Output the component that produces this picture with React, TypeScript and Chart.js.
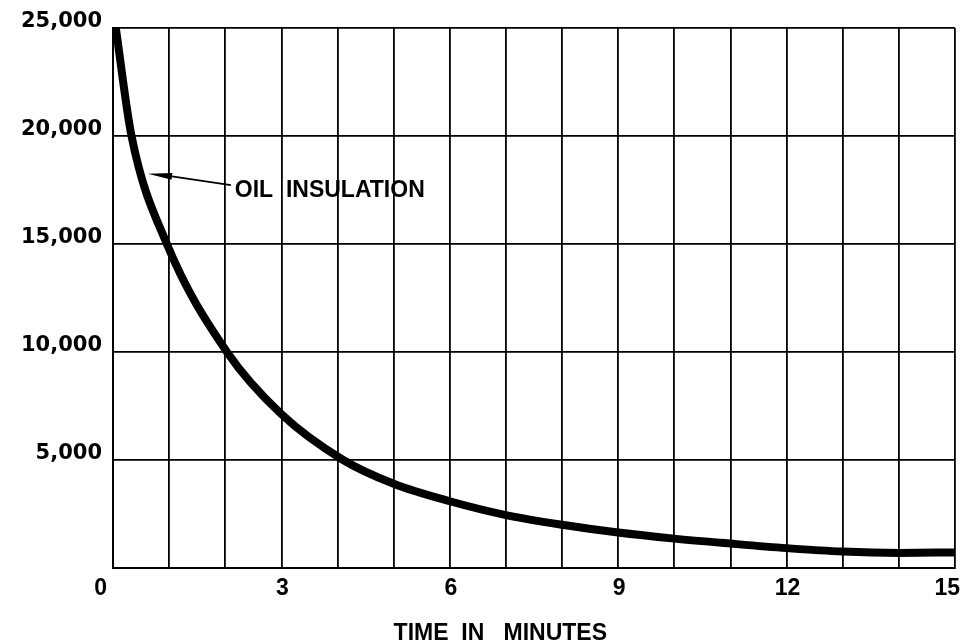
import React, { useEffect, useRef } from "react";
import { Chart, registerables } from "chart.js";

Chart.register(...registerables);

// Curve: time (minutes) vs value
const timeMinutes = [0.05, 0.33, 0.96, 2.03, 3, 4.1, 5, 6, 7, 8, 9, 10, 11, 12, 13, 14, 15];
const oilValues = [25000, 20000, 15000, 10000, 7120, 5000, 3900, 3090, 2450, 2000, 1640, 1360, 1130, 920, 760, 700, 720];

const xTickLabels = [0, 3, 6, 9, 12, 15];
const xAxisTitle = "TIME  IN   MINUTES";
const seriesLabel = "OIL  INSULATION";

// annotation anchor points (data coordinates)
const labelAt = { x: 2.17, y: 17180 };
const arrowTip = { x: 0.62, y: 18250 };
const arrowBase = { x: 1.05, y: 18130 };
const arrowTail = { x: 2.1, y: 17730 };

const LABEL_FONT = "bold 23px 'Liberation Sans', Arial, sans-serif";

const customText = {
  id: "customText",
  afterDraw(chart: any) {
    const { ctx, chartArea, scales } = chart;
    const xs = scales.x;
    const ys = scales.y;
    ctx.save();
    ctx.fillStyle = "#000";
    ctx.strokeStyle = "#000";
    ctx.font = LABEL_FONT;
    ctx.textBaseline = "alphabetic";
    // x tick labels
    xTickLabels.forEach((v, i) => {
      const px = xs.getPixelForValue(v);
      const t = String(v);
      if (i === 0) {
        ctx.textAlign = "right";
        ctx.fillText(t, px - 6, chartArea.bottom + 27);
      } else if (i === xTickLabels.length - 1) {
        ctx.textAlign = "right";
        ctx.fillText(t, px + 5, chartArea.bottom + 27);
      } else {
        ctx.textAlign = "center";
        ctx.fillText(t, px + 1, chartArea.bottom + 27);
      }
    });
    // x axis title
    ctx.textAlign = "center";
    ctx.fillText(xAxisTitle, xs.getPixelForValue(6.9), chart.height - 4);

    // annotation label
    ctx.textAlign = "left";
    ctx.fillText(seriesLabel, xs.getPixelForValue(labelAt.x), ys.getPixelForValue(labelAt.y));

    // arrow
    const tx = xs.getPixelForValue(arrowTip.x), ty = ys.getPixelForValue(arrowTip.y);
    const bx = xs.getPixelForValue(arrowBase.x), by = ys.getPixelForValue(arrowBase.y);
    const ex = xs.getPixelForValue(arrowTail.x), ey = ys.getPixelForValue(arrowTail.y);
    ctx.lineWidth = 1.8;
    ctx.beginPath();
    ctx.moveTo(bx, by);
    ctx.lineTo(ex, ey);
    ctx.stroke();
    const ang = Math.atan2(by - ty, bx - tx);
    const hw = 3.5;
    ctx.beginPath();
    ctx.moveTo(tx, ty);
    ctx.lineTo(bx + Math.sin(ang) * hw, by - Math.cos(ang) * hw);
    ctx.lineTo(bx - Math.sin(ang) * hw, by + Math.cos(ang) * hw);
    ctx.closePath();
    ctx.fill();
    ctx.restore();
  },
};

export default function App() {
  const ref = useRef<HTMLCanvasElement | null>(null);
  useEffect(() => {
    if (!ref.current) return;
    const chart = new Chart(ref.current, {
      type: "line",
      data: {
        datasets: [
          {
            label: seriesLabel,
            data: timeMinutes.map((t, i) => ({ x: t, y: oilValues[i] })),
            borderColor: "#000",
            borderWidth: 8,
            pointRadius: 0,
            cubicInterpolationMode: "monotone",
            fill: false,
            borderCapStyle: "butt",
          },
        ],
      },
      options: {
        responsive: false,
        animation: false,
        layout: { padding: { top: 28, right: 13, left: 0, bottom: 0 } },
        plugins: {
          legend: { display: false },
          tooltip: { enabled: false },
          title: { display: false },
        },
        scales: {
          x: {
            type: "linear",
            min: 0,
            max: 15,
            ticks: { display: false, stepSize: 1 },
            grid: { color: "#000", lineWidth: 1.8, drawTicks: false },
            border: { color: "#000", width: 2 },
            afterFit: (s: any) => {
              s.height = 76;
            },
          },
          y: {
            type: "linear",
            min: 0,
            max: 25000,
            ticks: {
              stepSize: 5000,
              padding: 11,
              labelOffset: -6,
              color: "#000",
              font: { family: "'DejaVu Sans', sans-serif", weight: "bold", size: 21 },
              callback: (v: any) => (v === 0 ? "" : Number(v).toLocaleString("en-US")),
            },
            grid: { color: "#000", lineWidth: 1.8, drawTicks: false },
            border: { color: "#000", width: 2 },
            afterFit: (s: any) => {
              s.width = 113;
            },
          },
        },
      },
      plugins: [customText],
    });
    return () => chart.destroy();
  }, []);
  return (
    <div style={{ position: "fixed", left: 0, top: 0, width: 968, height: 644, background: "#fff" }}>
      <canvas ref={ref} width={968} height={644} />
    </div>
  );
}
